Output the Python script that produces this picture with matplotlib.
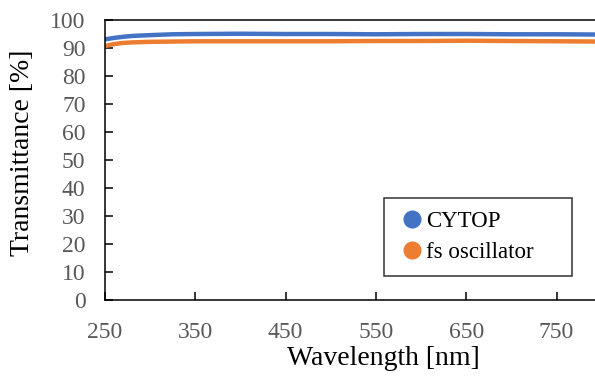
import matplotlib
matplotlib.use("Agg")
import matplotlib.pyplot as plt

plt.rcParams["font.family"] = ["Liberation Serif", "DejaVu Serif"]

# transmittance spectra
wavelength = [250, 260, 270, 280, 300, 325, 350, 400, 450, 500, 550, 600, 650, 700, 750, 800]
cytop = [93.1, 93.6, 94.0, 94.3, 94.6, 94.9, 95.0, 95.1, 95.0, 95.0, 94.9, 95.0, 95.0, 94.9, 94.9, 94.8]
fs_osc = [90.7, 91.4, 91.8, 92.0, 92.2, 92.3, 92.4, 92.4, 92.4, 92.4, 92.5, 92.5, 92.6, 92.5, 92.4, 92.3]
xticks = [250, 350, 450, 550, 650, 750]
yticks = list(range(0, 101, 10))

fig = plt.figure(figsize=(5.95, 3.76), dpi=100)
ax = fig.add_axes([105 / 595, 76 / 376, 496.7 / 595, 280 / 376])

ax.plot(wavelength, cytop, color="#4472C4", lw=3.2, label="CYTOP", solid_capstyle="round")
ax.plot(wavelength, fs_osc, color="#ED7D31", lw=3.2, label="fs oscillator", solid_capstyle="round")

ax.set_xlim(250, 800)
ax.set_ylim(0, 100)
ax.set_xticks(xticks)
ax.set_yticks(yticks)
ax.tick_params(direction="in", length=6, width=1.1, labelsize=17, labelcolor="#595959")
ax.tick_params(axis="x", pad=16)
ax.tick_params(axis="y", pad=14)
for s in ax.spines.values():
    s.set_linewidth(1.1)
    s.set_color("black")

ax.set_xlabel("Wavelength [nm]", fontsize=20)
ax.set_ylabel("Transmittance [%]", fontsize=20)
ax.xaxis.set_label_coords(0.56, -0.165)
ax.yaxis.set_label_coords((35 - 105) / 496.7, (300 - 153) / 280)

handles = [plt.Line2D([], [], ls="", marker="o", ms=12, color=c) for c in ["#4472C4", "#ED7D31"]]
leg = ax.legend(handles, ["CYTOP", "fs oscillator"], loc="upper left",
                bbox_to_anchor=((384 - 105) / 496.7, (300 - 198) / 280, (572 - 384) / 496.7, 0),
                mode="expand", fontsize=16.5, frameon=True, fancybox=False, edgecolor="black",
                handletextpad=0.0, handlelength=1.3, borderpad=0.55, labelspacing=0.45,
                borderaxespad=0)
leg.get_frame().set_linewidth(1.1)

fig.savefig("out.png", dpi=100)
